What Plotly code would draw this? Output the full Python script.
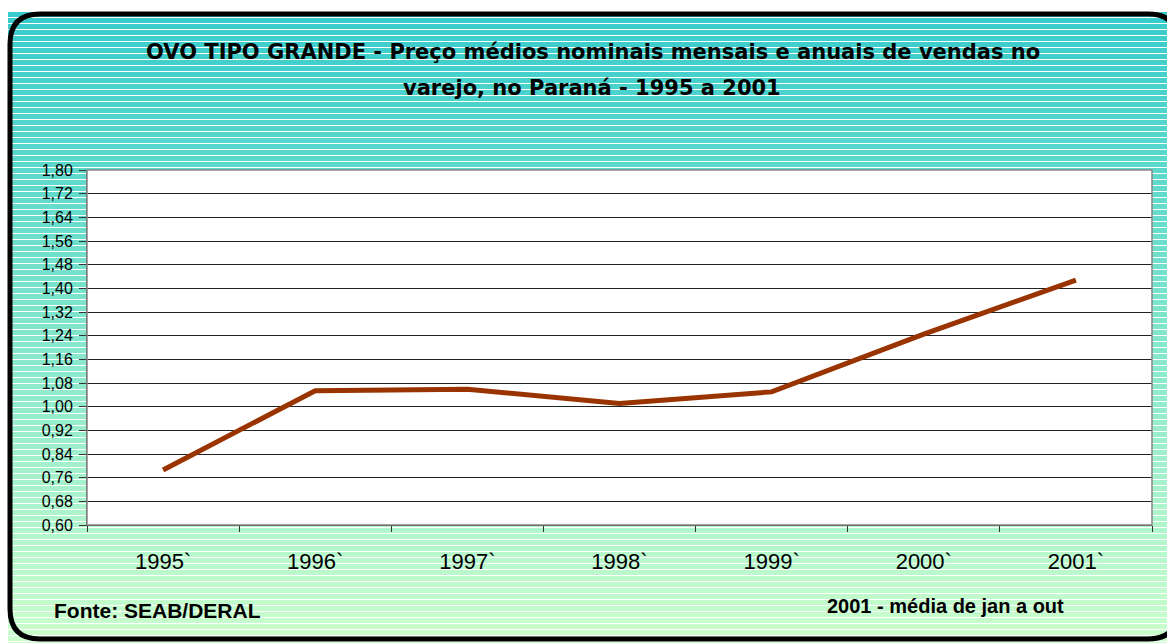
import plotly.graph_objects as go

# ---- data ----
years = ["1995`", "1996`", "1997`", "1998`", "1999`", "2000`", "2001`"]
prices = [0.786, 1.054, 1.059, 1.011, 1.050, 1.245, 1.428]
y_ticks = [0.60, 0.68, 0.76, 0.84, 0.92, 1.00, 1.08, 1.16, 1.24, 1.32, 1.40, 1.48, 1.56, 1.64, 1.72, 1.80]

title_line1 = "OVO TIPO GRANDE - Preço médios nominais mensais e anuais de vendas no"
title_line2 = "varejo, no Paraná - 1995 a 2001"
source_text = "Fonte: SEAB/DERAL"
note_text = "2001 - média de jan a out"

# ---- geometry (pixels) ----
FW, FH = 1167, 643
L, R, T, B = 87, 1152, 170, 525
PW, PH = R - L, B - T


def px(xp):
    return (xp - L) / PW


def py(yp):
    return (B - yp) / PH


shapes = []
# striped gradient background
top_c = (56, 204, 204)
bot_c = (204, 255, 204)
y0 = 12
period = 6
yy = y0
while yy < FH:
    t = (yy - y0) / (FH - y0)
    c = tuple(int(round(a + (b - a) * t)) for a, b in zip(top_c, bot_c))
    shapes.append(dict(type="rect", xref="paper", yref="paper",
                       x0=px(8), x1=px(FW + 5), y0=py(yy), y1=py(min(yy + 5, FH + 5)),
                       fillcolor=f"rgb{c}", line=dict(width=0), layer="below"))
    yy += period

# white plot area
shapes.append(dict(type="rect", xref="paper", yref="paper", x0=0, x1=1, y0=0, y1=1,
                   fillcolor="white", line=dict(width=0), layer="below"))

# rounded border
bl, bt, br, bb, r = 10, 14, 1178, 639, 30
path = (f"M {px(bl)},{py(bt + r)} Q {px(bl)},{py(bt)} {px(bl + r)},{py(bt)} "
        f"L {px(br - r)},{py(bt)} Q {px(br)},{py(bt)} {px(br)},{py(bt + r)} "
        f"L {px(br)},{py(bb - r)} Q {px(br)},{py(bb)} {px(br - r)},{py(bb)} "
        f"L {px(bl + r)},{py(bb)} Q {px(bl)},{py(bb)} {px(bl)},{py(bb - r)} Z")
shapes.append(dict(type="path", xref="paper", yref="paper", path=path,
                   line=dict(color="black", width=5), layer="above"))

fig = go.Figure()
fig.add_trace(go.Scatter(x=years, y=prices, mode="lines",
                         line=dict(color="#993300", width=5), hoverinfo="x+y",
                         showlegend=False))

title_font = dict(family="DejaVu Sans", size=21, color="black")
fig.update_layout(
    width=FW, height=FH,
    margin=dict(l=L, r=FW - R, t=T, b=FH - B),
    paper_bgcolor="white", plot_bgcolor="white",
    separators=",.",
    shapes=shapes,
    xaxis=dict(type="category", tickson="boundaries", ticks="outside", ticklen=6,
               tickcolor="#333", showgrid=False, showline=True, linecolor="#222",
               linewidth=1, mirror=False, ticklabelstandoff=17,
               tickfont=dict(family="Liberation Sans, Arial", size=22, color="black"),
               range=[-0.5, 6.5]),
    yaxis=dict(range=[0.60, 1.80], tickvals=y_ticks, tickformat=".2f",
               ticks="outside", ticklen=7, tickcolor="#333", ticklabelstandoff=3,
               showgrid=True, gridcolor="#222", gridwidth=1,
               showline=True, linecolor="#555", linewidth=1, zeroline=False,
               tickfont=dict(family="Liberation Sans, Arial", size=16, color="black")),
    annotations=[
        dict(text="<b>" + title_line1 + "</b>", xref="paper", yref="paper",
             x=px(593), y=py(52), xanchor="center", yanchor="middle", showarrow=False,
             font=title_font),
        dict(text="<b>" + title_line2 + "</b>", xref="paper", yref="paper",
             x=px(592), y=py(88), xanchor="center", yanchor="middle", showarrow=False,
             font=title_font),
        dict(text="<b>" + source_text + "</b>", xref="paper", yref="paper",
             x=px(52), y=py(610), xanchor="left", yanchor="middle", showarrow=False,
             font=dict(family="Liberation Sans, Arial", size=21, color="black")),
        dict(text="<b>" + note_text + "</b>", xref="paper", yref="paper",
             x=px(825), y=py(606), xanchor="left", yanchor="middle", showarrow=False,
             font=dict(family="Liberation Sans, Arial", size=20, color="black")),
    ],
)
# grey plot border (top/right)
fig.add_shape(type="rect", xref="paper", yref="paper", x0=0, x1=1, y0=0, y1=1,
              line=dict(color="#888", width=1.5), layer="above")

fig.write_html("out.html", config={"displayModeBar": False},
               post_script="document.body.style.margin='0';document.body.style.padding='0';")
